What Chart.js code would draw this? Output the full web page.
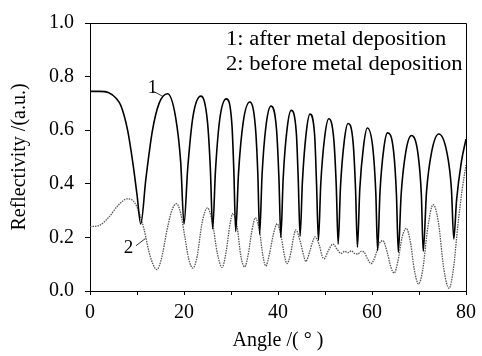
<!DOCTYPE html>
<html>
<head>
<meta charset="utf-8">
<script src="https://cdn.jsdelivr.net/npm/chart.js@4/dist/chart.umd.min.js"></script>
<style>
  html, body { margin: 0; padding: 0; background: #fff; }
  #wrap { width: 482px; height: 356px; }
</style>
</head>
<body>
<div id="wrap"><canvas id="myChart" width="482" height="356"></canvas></div>
<script>
// curve 1: after metal deposition
var angle1 = [0, 2, 4, 5.5, 6.6, 8.0, 9.1, 10.0, 10.8, 11.9, 13.3, 14.7, 16.5, 18.2, 19.3, 20.0,
  20.8, 21.9, 23.6, 25.0, 25.6, 26.1,
  26.7, 27.6, 29.0, 30.2, 30.6, 31.0,
  31.6, 32.6, 34.0, 35.2, 35.7, 36.1,
  36.6, 37.4, 38.5, 39.7, 40.2, 40.6,
  41.1, 41.9, 42.8, 43.9, 44.3, 44.7,
  45.2, 46.0, 46.8, 47.8, 48.2, 48.6,
  49.1, 49.9, 50.8, 51.9, 52.4, 52.8,
  53.3, 54.1, 54.9, 56.0, 56.5, 56.9,
  57.4, 58.2, 59.0, 60.2, 60.8, 61.2,
  61.7, 62.5, 63.3, 64.6, 65.2, 65.6,
  66.2, 67.2, 68.4, 69.8, 70.5, 70.9,
  71.6, 72.7, 74.2, 75.9, 76.9, 77.4,
  78.0, 79.0, 80.0];
var refl1 = [0.745, 0.745, 0.74, 0.72, 0.69, 0.60, 0.48, 0.36, 0.25, 0.42, 0.60, 0.70, 0.736, 0.65, 0.48, 0.25,
  0.46, 0.65, 0.727, 0.63, 0.46, 0.232,
  0.45, 0.64, 0.717, 0.62, 0.45, 0.222,
  0.44, 0.63, 0.705, 0.61, 0.44, 0.212,
  0.43, 0.61, 0.69, 0.60, 0.42, 0.20,
  0.42, 0.60, 0.674, 0.59, 0.42, 0.205,
  0.41, 0.59, 0.66, 0.58, 0.40, 0.19,
  0.40, 0.57, 0.643, 0.56, 0.39, 0.175,
  0.39, 0.56, 0.625, 0.55, 0.38, 0.163,
  0.38, 0.54, 0.608, 0.53, 0.37, 0.151,
  0.37, 0.53, 0.59, 0.52, 0.36, 0.145,
  0.36, 0.52, 0.58, 0.51, 0.36, 0.148,
  0.37, 0.52, 0.586, 0.52, 0.38, 0.194,
  0.34, 0.48, 0.567];

// curve 2: before metal deposition
var angle2 = [0, 2, 4, 6, 8.0, 9.5, 10.5, 11.5, 12.5, 13.4, 14.2, 15.2, 16.3, 17.4, 18.4, 19.3,
  20.2, 21.0, 21.9, 22.8, 23.8, 25.0, 26.0, 27.1, 28.1, 29.0, 29.7, 30.4, 31.3, 32.1, 32.9,
  33.7, 34.4, 35.2, 36.1, 36.8, 37.4, 38.2, 39.0, 39.8, 40.7, 41.4, 41.9, 42.7, 43.3, 43.8,
  44.8, 45.5, 45.9, 46.8, 47.3, 47.9, 48.8, 49.4, 49.8, 50.7, 51.7, 52.6, 53.4, 54.2, 54.9,
  55.6, 56.3, 57.0, 57.7, 58.3, 59.0, 59.8, 60.7, 61.5, 62.3, 63.3, 64.0, 64.7, 65.5, 66.4,
  67.3, 68.2, 69.0, 69.9, 70.8, 71.9, 73.0, 74.1, 75.3, 76.4, 77.3, 78.3, 79.2, 80.0];
var refl2 = [0.24, 0.245, 0.275, 0.32, 0.344, 0.33, 0.29, 0.23, 0.15, 0.10, 0.08, 0.12, 0.22, 0.30, 0.326, 0.29,
  0.20, 0.12, 0.085, 0.13, 0.25, 0.31, 0.26, 0.14, 0.088, 0.15, 0.24, 0.29, 0.24, 0.13, 0.09,
  0.14, 0.22, 0.273, 0.22, 0.13, 0.093, 0.14, 0.21, 0.251, 0.20, 0.13, 0.102, 0.14, 0.20, 0.228,
  0.18, 0.13, 0.11, 0.15, 0.18, 0.202, 0.17, 0.13, 0.12, 0.15, 0.175, 0.155, 0.14, 0.148, 0.143,
  0.15, 0.14, 0.138, 0.148, 0.145, 0.122, 0.102, 0.13, 0.175, 0.188, 0.14, 0.09, 0.067, 0.11, 0.20,
  0.234, 0.18, 0.08, 0.026, 0.08, 0.24, 0.322, 0.26, 0.08, 0.01, 0.08, 0.25, 0.38, 0.47];

var legendLines = ['1: after metal deposition', '2: before metal deposition'];

function pts(xs, ys) {
  var out = [];
  for (var i = 0; i < xs.length; i++) out.push({x: xs[i], y: ys[i]});
  return out;
}

var serif = "'Liberation Serif', 'DejaVu Serif', serif";

// box frame, curve numbers and the text legend
var extras = {
  id: 'extras',
  afterDatasetsDraw: function(chart) {
    var ctx = chart.ctx, a = chart.chartArea;
    var xs = chart.scales.x, ys = chart.scales.y;
    ctx.save();
    ctx.strokeStyle = '#000';
    ctx.lineWidth = 1;
    ctx.beginPath();
    ctx.moveTo(a.left, a.top + 0.5);
    ctx.lineTo(a.right + 0.5, a.top + 0.5);
    ctx.lineTo(a.right + 0.5, a.bottom);
    ctx.stroke();

    ctx.fillStyle = '#000';
    ctx.textBaseline = 'alphabetic';
    // the legend lettering in the picture is a bit wide
    ctx.save();
    ctx.font = '20px ' + serif;
    ctx.translate(226, 0);
    ctx.scale(1.13, 1);
    ctx.fillText(legendLines[0], 0, 45);
    ctx.fillText(legendLines[1], 0, 70);
    ctx.restore();

    // "1" and "2" with little leader lines
    ctx.font = '19px ' + serif;
    ctx.fillText('1', xs.getPixelForValue(12.3), ys.getPixelForValue(0.739));
    ctx.fillText('2', xs.getPixelForValue(7.2), ys.getPixelForValue(0.14));
    ctx.lineWidth = 0.8;
    ctx.beginPath();
    ctx.moveTo(xs.getPixelForValue(13.5), ys.getPixelForValue(0.745));
    ctx.lineTo(xs.getPixelForValue(15.3), ys.getPixelForValue(0.728));
    ctx.moveTo(xs.getPixelForValue(9.8), ys.getPixelForValue(0.169));
    ctx.lineTo(xs.getPixelForValue(11.8), ys.getPixelForValue(0.196));
    ctx.stroke();
    ctx.restore();
  }
};

new Chart("myChart", {
  type: "line",
  data: {
    datasets: [{
      label: "1",
      data: pts(angle1, refl1),
      borderColor: "#000",
      borderWidth: 1.6,
      pointRadius: 0,
      cubicInterpolationMode: 'monotone',
      fill: false
    }, {
      label: "2",
      data: pts(angle2, refl2),
      borderColor: "#555",
      borderWidth: 1.3,
      borderDash: [1.5, 1],
      pointRadius: 0,
      cubicInterpolationMode: 'monotone',
      fill: false
    }]
  },
  options: {
    responsive: false,
    animation: false,
    layout: {padding: {top: 19, right: 13, left: 0, bottom: 0}},
    plugins: {
      legend: {display: false},
      tooltip: {enabled: false}
    },
    scales: {
      x: {
        type: 'linear',
        min: 0, max: 80,
        afterFit: function(s) { s.height = 65; },
        border: {display: true, color: '#000', width: 1},
        grid: {drawOnChartArea: false, tickLength: 4, color: '#000'},
        ticks: {
          stepSize: 10,
          color: '#000',
          padding: 6,
          maxRotation: 0,
          font: {family: serif, size: 20},
          callback: function(v) { return v % 20 === 0 ? v : ''; }
        },
        title: {
          display: true,
          text: 'Angle /( \u00B0 )',
          color: '#000',
          font: {family: serif, size: 20},
          padding: {top: 0, bottom: 3}
        }
      },
      y: {
        min: 0, max: 1.0,
        afterFit: function(s) { s.width = 90; },
        border: {display: true, color: '#000', width: 1},
        grid: {drawOnChartArea: false, tickLength: 5, color: '#000'},
        ticks: {
          stepSize: 0.1,
          color: '#000',
          padding: 11,
          font: {family: serif, size: 20},
          callback: function(v) {
            var r = Math.round(v * 10);
            return r % 2 === 0 ? (r / 10).toFixed(1) : '';
          }
        },
        title: {
          display: true,
          text: 'Reflectivity /(a.u.)',
          color: '#000',
          font: {family: serif, size: 20},
          padding: {top: 8, bottom: 0}
        }
      }
    }
  },
  plugins: [extras]
});
</script>
</body>
</html>
